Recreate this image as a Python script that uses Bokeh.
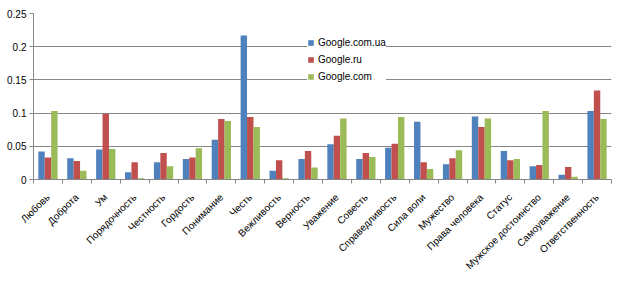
import math
from bokeh.plotting import figure
from bokeh.models import ColumnDataSource, FixedTicker, Legend, LegendItem, Range1d
from bokeh.embed import file_html
from bokeh.resources import INLINE

categories = ["Любовь", "Доброта", "Ум", "Порядочность", "Честность", "Гордость",
              "Понимание", "Честь", "Вежливость", "Верность", "Уважение", "Совесть",
              "Справедливость", "Сила воли", "Мужество", "Права человека", "Статус",
              "Мужское достоинство", "Самоуважение", "Ответственность"]
google_com_ua = [0.042, 0.032, 0.045, 0.011, 0.026, 0.031, 0.060, 0.217, 0.013, 0.031,
                 0.053, 0.031, 0.048, 0.087, 0.023, 0.095, 0.043, 0.020, 0.007, 0.103]
google_ru = [0.033, 0.028, 0.099, 0.026, 0.040, 0.033, 0.091, 0.094, 0.029, 0.043,
             0.066, 0.040, 0.054, 0.026, 0.032, 0.079, 0.029, 0.022, 0.019, 0.134]
google_com = [0.103, 0.013, 0.046, 0.002, 0.020, 0.047, 0.088, 0.079, 0.002, 0.018,
              0.092, 0.034, 0.094, 0.016, 0.044, 0.092, 0.031, 0.103, 0.004, 0.091]
series_names = ["Google.com.ua", "Google.ru", "Google.com"]
y_ticks = [0, 0.05, 0.1, 0.15, 0.2, 0.25]
y_tick_labels = ["0", "0.05", "0.1", "0.15", "0.2", "0.25"]

colors = ["#4F81BD", "#C0504D", "#9BBB59"]
n = len(categories)
bw = 1 / 4.5
centers = [i + 0.5 for i in range(n)]

p = figure(width=623, height=286, output_backend="svg", toolbar_location=None,
           x_range=Range1d(0, n), y_range=Range1d(0, 0.25),
           min_border_left=33, min_border_right=12, min_border_top=13, min_border_bottom=107)
p.outline_line_color = None
p.background_fill_color = "white"
p.border_fill_color = "white"

renderers = []
for k, (vals, col) in enumerate(zip([google_com_ua, google_ru, google_com], colors)):
    src = ColumnDataSource(dict(x=[c + (k - 1) * bw for c in centers], top=vals))
    r = p.vbar(x="x", top="top", width=bw, bottom=0, source=src,
               fill_color=col, line_color=None)
    renderers.append(r)

# axes
p.xaxis.ticker = FixedTicker(ticks=centers, minor_ticks=list(range(n + 1)))
p.xaxis.major_label_overrides = {c: lab for c, lab in zip(centers, categories)}
p.xaxis.major_label_orientation = math.pi / 4
p.xaxis.major_tick_line_color = None
p.xaxis.minor_tick_line_color = "#868686"
p.xaxis.minor_tick_in = 0
p.xaxis.minor_tick_out = 4
p.xaxis.axis_line_color = "#868686"
p.xaxis.major_label_text_font = "Liberation Sans"
p.xaxis.major_label_text_font_size = "10px"
p.xaxis.major_label_text_color = "black"
p.xaxis.major_label_standoff = 10

p.yaxis.ticker = FixedTicker(ticks=y_ticks)
p.yaxis.major_label_overrides = {t: l for t, l in zip(y_ticks, y_tick_labels)}
p.yaxis.major_tick_in = 0
p.yaxis.major_tick_out = 4
p.yaxis.minor_tick_line_color = None
p.yaxis.axis_line_color = "#868686"
p.yaxis.major_tick_line_color = "#868686"
p.yaxis.major_label_text_font = "Liberation Sans"
p.yaxis.major_label_text_font_size = "10px"
p.yaxis.major_label_text_color = "black"
p.yaxis.major_label_standoff = 3

p.xgrid.grid_line_color = None
p.ygrid.ticker = FixedTicker(ticks=y_ticks)
p.ygrid.grid_line_color = "#868686"

legend = Legend(items=[LegendItem(label=nm, renderers=[r]) for nm, r in zip(series_names, renderers)],
                location=(274, 97))
legend.border_line_color = None
legend.background_fill_color = "white"
legend.background_fill_alpha = 1
legend.glyph_width = 7
legend.glyph_height = 7
legend.label_height = 12
legend.spacing = 5
legend.padding = 4
legend.margin = 0
legend.label_standoff = 4
legend.label_text_font = "Liberation Sans"
legend.label_text_font_size = "10px"
legend.label_text_color = "black"
p.add_layout(legend)

open("out.html", "w").write(file_html(p, INLINE))
